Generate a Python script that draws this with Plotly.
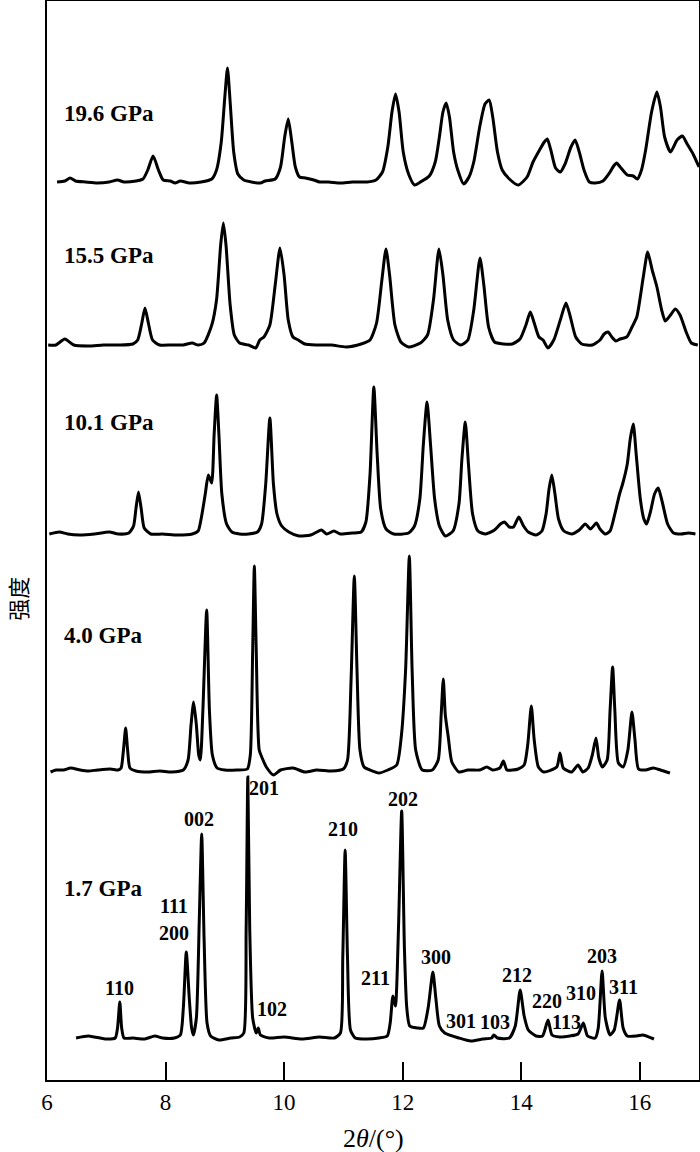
import plotly.graph_objects as go

# XRD patterns, 2theta (deg) and intensity above each pattern's own baseline (a.u.)
tt_196 = [6.17, 6.30, 6.39, 6.48, 6.65, 6.85, 7.05, 7.19, 7.30, 7.50, 7.62, 7.70, 7.79, 7.88, 7.96,
          8.08, 8.16, 8.25, 8.40, 8.60, 8.78, 8.86, 8.94, 9.00, 9.045, 9.09, 9.15, 9.22, 9.32, 9.45,
          9.60, 9.68, 9.85, 9.94, 10.01, 10.07, 10.13, 10.19, 10.26, 10.36, 10.50, 10.60, 10.75, 10.95,
          11.15, 11.40, 11.55, 11.66, 11.75, 11.82, 11.88, 11.94, 12.01, 12.10, 12.20, 12.30, 12.45,
          12.55, 12.62, 12.68, 12.735, 12.79, 12.86, 12.93, 13.03, 13.12, 13.20, 13.30, 13.39, 13.46,
          13.52, 13.60, 13.68, 13.80, 13.95, 14.10, 14.20, 14.31, 14.39, 14.44, 14.50, 14.58, 14.66,
          14.74, 14.84, 14.91, 14.98, 15.06, 15.15, 15.25, 15.38, 15.50, 15.56, 15.61, 15.67, 15.79,
          15.89, 15.96, 16.03, 16.10, 16.20, 16.29, 16.35, 16.42, 16.52, 16.63, 16.72, 16.80, 16.90, 17.0]
in_196 = [0, 1, 4, 1, 0, -1, 0, 2, 0, 1, 3, 12, 26, 12, 2,
          1, -1, 1, -1, 0, 3, 12, 40, 85, 114, 80, 30, 8, 2, 0,
          -1, 1, 3, 15, 45, 63, 40, 15, 5, 4, 2, 0, 0, -1,
          0, 0, 2, 10, 35, 70, 88, 70, 30, 8, -3, 0, 6,
          20, 45, 70, 79, 65, 30, 12, -2, 5, 20, 55, 78, 82,
          65, 30, 12, 3, -3, 5, 20, 32, 40, 43, 32, 14, 10,
          18, 35, 42, 30, 12, 0, -1, 1, 10, 16, 19, 15, 7,
          6, 3, 12, 32, 70, 90, 75, 45, 30, 42, 46, 38, 28, 15]

tt_155 = [6.02, 6.15, 6.30, 6.45, 6.70, 6.95, 7.20, 7.45, 7.53, 7.60, 7.653, 7.71, 7.78, 7.90, 8.10,
          8.30, 8.45, 8.55, 8.65, 8.78, 8.86, 8.93, 8.975, 9.02, 9.09, 9.16, 9.25, 9.40, 9.52, 9.59,
          9.66, 9.76, 9.85, 9.931, 10.0, 10.07, 10.15, 10.24, 10.35, 10.55, 10.80, 11.05, 11.30, 11.45,
          11.56, 11.65, 11.719, 11.78, 11.87, 11.97, 12.10, 12.30, 12.42, 12.52, 12.613, 12.68, 12.76,
          12.86, 12.98, 13.10, 13.20, 13.305, 13.37, 13.45, 13.55, 13.70, 13.85, 13.98, 14.08, 14.154,
          14.22, 14.30, 14.37, 14.45, 14.55, 14.66, 14.756, 14.83, 14.92, 15.02, 15.20, 15.33, 15.40,
          15.465, 15.53, 15.60, 15.67, 15.78, 15.87, 15.95, 16.06, 16.134, 16.21, 16.29, 16.37, 16.43,
          16.52, 16.60, 16.68, 16.79, 16.87, 16.98]
in_155 = [0, 0, 6, 0, -1, 0, 0, 1, 5, 22, 37, 22, 5, 0, 0,
          0, 2, 0, 2, 20, 45, 100, 122, 100, 40, 10, 2, 0, -3, 5,
          8, 20, 60, 97, 70, 25, 8, 5, 1, 0, 0, -2, 1, 5,
          22, 65, 96, 70, 20, 3, -2, 2, 10, 45, 96, 70, 25,
          5, 0, 5, 35, 87, 60, 18, 3, 1, 1, 6, 20, 33,
          22, 8, 5, -3, 5, 25, 42, 28, 8, 1, 0, 5, 11,
          13, 8, 4, 6, 8, 18, 28, 68, 93, 75, 58, 35, 24,
          30, 36, 30, 12, 2, 0]

tt_101 = [6.04, 6.21, 6.35, 6.55, 6.80, 7.05, 7.20, 7.38, 7.46, 7.50, 7.543, 7.59, 7.64, 7.75, 7.95,
          8.20, 8.45, 8.55, 8.60, 8.67, 8.722, 8.778, 8.82, 8.862, 8.90, 8.95, 9.03, 9.12, 9.25, 9.40,
          9.55, 9.62, 9.69, 9.76, 9.82, 9.88, 9.96, 10.08, 10.25, 10.45, 10.63, 10.72, 10.84, 10.95,
          11.15, 11.30, 11.38, 11.45, 11.514, 11.57, 11.63, 11.72, 11.85, 12.10, 12.20, 12.29, 12.35,
          12.412, 12.47, 12.54, 12.62, 12.72, 12.85, 12.95, 13.00, 13.057, 13.11, 13.18, 13.27, 13.40,
          13.55, 13.65, 13.72, 13.80, 13.87, 13.96, 14.04, 14.12, 14.25, 14.35, 14.42, 14.47, 14.516,
          14.57, 14.63, 14.72, 14.85, 14.98, 15.08, 15.17, 15.27, 15.33, 15.42, 15.50, 15.58, 15.66,
          15.716, 15.79, 15.84, 15.891, 15.94, 16.01, 16.07, 16.116, 16.18, 16.25, 16.312, 16.38, 16.47,
          16.57, 16.70, 16.82, 16.94]
in_101 = [0, 2, 0, -1, 0, 2, 0, 1, 8, 25, 42, 25, 6, 0, 0,
          -1, 0, 3, 15, 40, 59, 51, 100, 139, 100, 40, 10, 2, 0, 0,
          2, 10, 50, 116, 50, 20, 8, 2, -2, -1, 4, 0, 3, 0,
          1, 2, 12, 60, 147, 80, 25, 5, 0, 1, 8, 35, 90,
          132, 90, 35, 8, -2, 3, 30, 75, 112, 70, 20, 3, 0,
          4, 10, 12, 7, 7, 17, 8, 2, -1, 3, 20, 45, 59,
          40, 15, 3, 0, 4, 10, 5, 11, 5, 0, 3, 20, 40,
          51, 70, 95, 110, 80, 35, 15, 10, 22, 40, 46, 32, 10,
          1, 0, 1, 0]

tt_40 = [6.06, 6.15, 6.28, 6.40, 6.56, 6.70, 6.85, 7.07, 7.20, 7.25, 7.29, 7.327, 7.36, 7.40, 7.50,
         7.70, 7.90, 8.10, 8.30, 8.38, 8.43, 8.474, 8.52, 8.56, 8.587, 8.63, 8.694, 8.74, 8.79, 8.87,
         9.00, 9.20, 9.38, 9.43, 9.47, 9.498, 9.53, 9.58, 9.63, 9.70, 9.82, 9.94, 10.15, 10.35, 10.55,
         10.80, 11.00, 11.07, 11.13, 11.185, 11.23, 11.28, 11.35, 11.45, 11.60, 11.75, 11.90, 11.98,
         12.05, 12.113, 12.16, 12.22, 12.33, 12.50, 12.60, 12.65, 12.686, 12.72, 12.77, 12.83, 12.95,
         13.10, 13.30, 13.42, 13.52, 13.64, 13.70, 13.76, 13.95, 14.05, 14.11, 14.171, 14.22, 14.29,
         14.38, 14.60, 14.655, 14.71, 14.85, 14.96, 15.04, 15.13, 15.20, 15.262, 15.31, 15.37, 15.45,
         15.50, 15.543, 15.58, 15.64, 15.72, 15.80, 15.869, 15.92, 15.98, 16.10, 16.23, 16.35, 16.51]
in_40 = [-2, 0, 0, 2, 0, -1, 0, 1, 0, 2, 20, 42, 20, 2, -1,
         -2, -1, -2, 0, 10, 45, 68, 45, 15, 10, 60, 160, 60, 15, 2,
         0, 0, 1, 15, 120, 204, 120, 20, 12, 3, -5, 0, 2, -2, 0,
         -1, 1, 10, 90, 194, 100, 20, 3, 0, -3, 0, 5, 35,
         100, 214, 100, 20, 0, 0, 10, 55, 91, 55, 33, 8, -2,
         0, 0, 3, 0, 2, 9, 0, 1, 5, 25, 64, 30, 3,
         -2, 3, 17, 2, -2, 5, -2, 2, 15, 32, 12, 3, 10,
         60, 103, 60, 7, 3, 20, 58, 30, 1, 0, 2, 0, -3]

tt_17 = [6.49, 6.70, 6.98, 7.15, 7.19, 7.228, 7.26, 7.30, 7.45, 7.65, 7.82, 7.95, 8.15, 8.25, 8.30,
         8.350, 8.40, 8.44, 8.469, 8.52, 8.57, 8.610, 8.65, 8.70, 8.76, 8.90, 9.10, 9.25, 9.32, 9.36,
         9.388, 9.42, 9.47, 9.53, 9.564, 9.60, 9.75, 10.00, 10.30, 10.60, 10.85, 10.95, 10.99, 11.030,
         11.07, 11.12, 11.20, 11.40, 11.60, 11.74, 11.79, 11.836, 11.878, 11.93, 11.984, 12.03, 12.07,
         12.12, 12.25, 12.35, 12.43, 12.510, 12.56, 12.62, 12.71, 12.95, 13.15, 13.35, 13.50, 13.54,
         13.60, 13.80, 13.90, 13.983, 14.05, 14.12, 14.25, 14.36, 14.453, 14.52, 14.65, 14.82, 14.96,
         15.049, 15.12, 15.25, 15.30, 15.365, 15.42, 15.50, 15.57, 15.660, 15.72, 15.79, 15.95, 16.05,
         16.24]
in_17 = [0, 2, -1, 0, 10, 36, 10, 0, 0, -1, 2, 0, 0, 3, 30,
         86, 40, 10, 3, 20, 120, 204, 100, 15, 2, -2, 0, 1, 5, 110,
         261, 110, 20, 5, 10, 3, 0, 1, -1, 1, 0, 5, 80, 188,
         80, 8, 0, -1, 0, 2, 15, 42, 32, 110, 227, 90, 30,
         12, 10, 10, 30, 66, 40, 12, 5, 0, -3, -1, 0, 3,
         0, 0, 12, 48, 22, 8, 2, 2, 18, 3, 1, 2, 4,
         15, 2, 0, 10, 67, 20, 3, 8, 38, 10, 2, 2, 3,
         -1]

pressures = ["19.6 GPa", "15.5 GPa", "10.1 GPa", "4.0 GPa", "1.7 GPa"]
offsets = [898, 735, 546, 310, 42]
label_y = [967, 825, 658, 445, 192]

# Miller indices for the 1.7 GPa pattern
hkl = ["110", "111", "200", "002", "201", "102", "210", "202", "211", "300",
       "301", "103", "212", "220", "113", "310", "203", "311"]
hkl_x = [7.23, 8.14, 8.14, 8.56, 9.66, 9.79, 10.99, 12.01, 11.54, 12.57,
         12.98, 13.56, 13.93, 14.44, 14.77, 15.01, 15.37, 15.72]
hkl_y = [92, 174, 147, 261, 292, 71, 251, 281, 102, 123,
         59, 58, 105, 79, 58, 87, 124, 93]

patterns = [(tt_196, in_196), (tt_155, in_155), (tt_101, in_101), (tt_40, in_40), (tt_17, in_17)]

SERIF = "Liberation Serif, Times New Roman, serif"

fig = go.Figure()
for (tt, inten), off, name in zip(patterns, offsets, pressures):
    fig.add_trace(go.Scatter(
        x=tt, y=[v + off for v in inten], mode="lines", name=name,
        line=dict(color="black", width=3, shape="spline", smoothing=0.6),
        showlegend=False, hoverinfo="skip"))

for name, yy in zip(pressures, label_y):
    fig.add_annotation(x=6.25, y=yy, text=f"<b>{name}</b>", showarrow=False,
                       xanchor="left", yanchor="middle",
                       font=dict(family=SERIF, size=23, color="black"))

for t, xx, yy in zip(hkl, hkl_x, hkl_y):
    fig.add_annotation(x=xx, y=yy, text=f"<b>{t}</b>", showarrow=False,
                       xanchor="center", yanchor="middle",
                       font=dict(family=SERIF, size=20, color="black"))

# axis titles placed by hand so they sit where the reference has them
fig.add_annotation(xref="paper", yref="paper", x=0.5, y=-0.054, yanchor="middle",
                   text="2<i>θ</i>/(°)", showarrow=False,
                   font=dict(family=SERIF, size=26, color="black"))
fig.add_annotation(xref="paper", yref="paper", x=-0.046, y=0.446, xanchor="center",
                   yanchor="middle", text="强度", textangle=-90, showarrow=False,
                   font=dict(family="Noto Sans CJK SC", size=22, color="black"))

fig.update_xaxes(range=[6, 17], tickvals=[6, 8, 10, 12, 14, 16], ticks="inside",
                 ticklen=18, tickwidth=2, tickcolor="black",
                 showline=True, linewidth=2, linecolor="black", mirror=True,
                 showgrid=False, zeroline=False, automargin=False,
                 tickfont=dict(family=SERIF, size=23, color="black"))
fig.update_yaxes(range=[0, 1079], showticklabels=False, ticks="",
                 showline=True, linewidth=2, linecolor="black", mirror=True,
                 showgrid=False, zeroline=False, automargin=False)

fig.update_layout(width=700, height=1152, margin=dict(l=47, r=1, t=1, b=72),
                  plot_bgcolor="white", paper_bgcolor="white")

# the page body has a default 8px margin; drop it so the figure fills the window
fig.write_html("out.html", config={"displayModeBar": False},
               post_script="document.body.style.margin = '0';")
